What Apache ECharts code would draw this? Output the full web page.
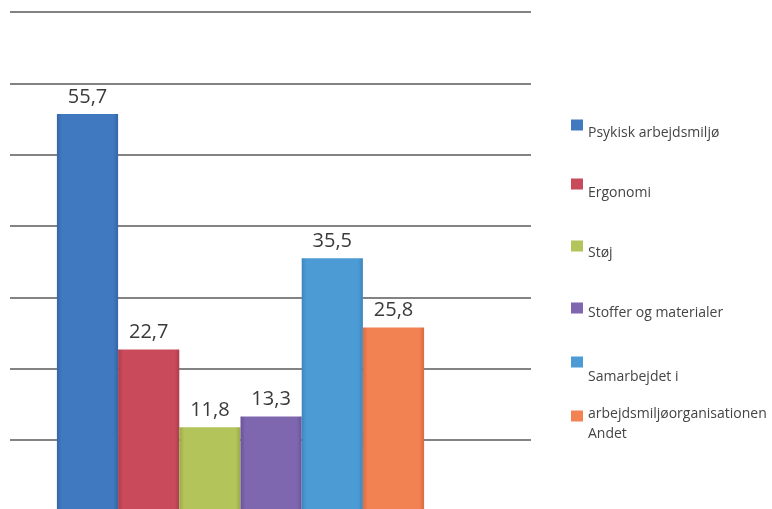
<!DOCTYPE html>
<html>
<head>
<meta charset="utf-8">
<script src="https://cdn.jsdelivr.net/npm/echarts@6/dist/echarts.min.js"></script>
<style>
  html, body { margin: 0; padding: 0; background: #fff; }
  #chart { width: 772px; height: 509px; }
</style>
</head>
<body>
<div id="chart"></div>
<script>
// data
var seriesNames = ['Psykisk arbejdsmiljø', 'Ergonomi', 'Støj', 'Stoffer og materialer',
  'Samarbejdet i\narbejdsmiljøorganisationen', 'Andet']
var values = [55.7, 22.7, 11.8, 13.3, 35.5, 25.8]
var colors = ['#4179c0', '#c94b5b', '#b2c45a', '#7f67b0', '#4c9bd4', '#f28252']
var darkColors = ['#3466a8', '#ad3d4c', '#98aa48', '#6a5498', '#3e86bd', '#d96c40']

// legend layout: [top of icon, centre of text block]
var legendLayout = [[119.5, 133], [178.5, 193], [240.5, 253.5], [302.5, 313.5], [356.5, 395.5], [410.5, 434]]

var myChart = echarts.init(document.getElementById('chart'))

var series = []
var legends = []
for (var i = 0; i < seriesNames.length; i++) {
  series.push({
    name: seriesNames[i],
    type: 'bar',
    xAxisIndex: 1,
    yAxisIndex: 1,
    barWidth: 61.2,
    barGap: '0%',
    data: [values[i]],
    itemStyle: {
      color: new echarts.graphic.LinearGradient(0, 0, 1, 0, [
        { offset: 0, color: darkColors[i] },
        { offset: 0.08, color: colors[i] },
        { offset: 0.92, color: colors[i] },
        { offset: 1, color: darkColors[i] }
      ])
    },
    label: {
      show: true,
      position: 'top',
      distance: 7,
      color: '#3a3a3a',
      fontSize: 20,
      fontFamily: 'Open Sans',
      formatter: function (p) { return String(p.value).replace('.', ',') }
    }
  })
  // square at the top of the icon box, so the text sits below it
  var h = 2 * (legendLayout[i][1] - legendLayout[i][0])
  var twoLines = seriesNames[i].indexOf('\n') >= 0
  legends.push({
    orient: 'vertical',
    left: 571,
    top: legendLayout[i][0],
    padding: 0,
    itemWidth: 12,
    itemHeight: h,
    itemGap: 0,
    selectedMode: false,
    icon: 'path://M0,0H12V11H0Z M12,' + h + 'L12,' + h + 'Z',
    data: [{ name: seriesNames[i], itemStyle: { color: colors[i] } }],
    textStyle: {
      color: '#444',
      fontSize: 14,
      fontFamily: 'Open Sans',
      lineHeight: twoLines ? 37 : 16
    }
  })
}

var option = {
  animation: false,
  legend: legends,
  grid: [
    { left: 10, top: 12, width: 521, height: 499.5, outerBoundsMode: 'none' },   // gridlines
    { left: 10, top: 12, width: 461, height: 499.5, outerBoundsMode: 'none' }    // bars
  ],
  xAxis: [
    { type: 'category', gridIndex: 0, data: [''], show: false },
    { type: 'category', gridIndex: 1, data: [''], show: false }
  ],
  yAxis: [
    {
      type: 'value', gridIndex: 0, min: 0, max: 70, interval: 10,
      axisLine: { show: false }, axisTick: { show: false }, axisLabel: { show: false },
      splitLine: { lineStyle: { color: '#5a5a5a', width: 1.5 } }
    },
    {
      type: 'value', gridIndex: 1, min: 0, max: 70, interval: 10,
      axisLine: { show: false }, axisTick: { show: false }, axisLabel: { show: false },
      splitLine: { show: false }
    }
  ],
  series: series
}
myChart.setOption(option)
</script>
</body>
</html>
